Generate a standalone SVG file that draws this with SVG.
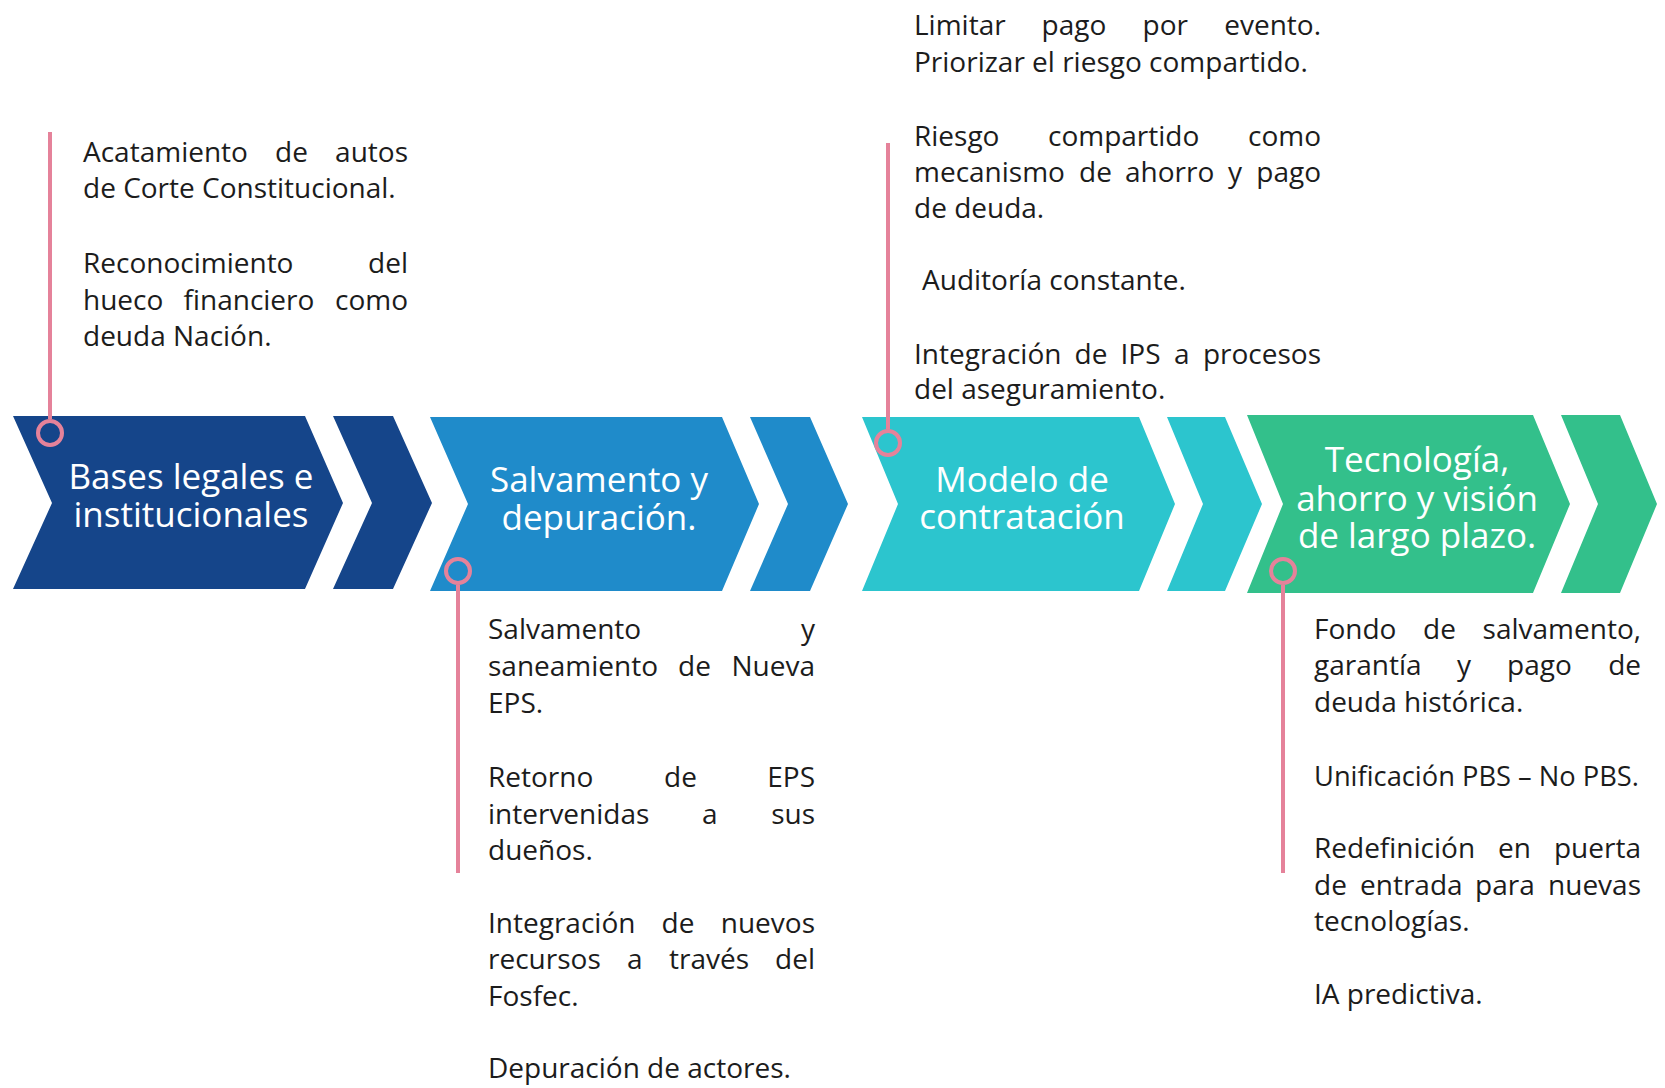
<svg xmlns="http://www.w3.org/2000/svg" width="1665" height="1088" viewBox="0 0 1665 1088">
<style>
.body{font-family:"Open Sans","Liberation Sans",sans-serif;font-size:28px;fill:#1c1c1c}
.r{text-anchor:end}
.title{font-family:"Open Sans","Liberation Sans",sans-serif;font-size:35px;fill:#ffffff;text-anchor:middle}
.conn{stroke:#E5829A;stroke-width:4;fill:none}
.dot{stroke:#E5829A;stroke-width:4;fill:none}
.c1{fill:#15458A}.c2{fill:#1F8BCA}.c3{fill:#2CC5CE}.c4{fill:#33C08B}
</style>
<rect width="1665" height="1088" fill="#ffffff"/>

<g id="stage1">
<path class="c1" d="M13,416 L305,416 L343,503 L305,589 L13,589 L52,503 Z"/>
<path class="c1" d="M333,416 L393,416 L432,503 L393,589 L333,589 L372,503 Z"/>
<text class="title" x="191" y="489">Bases legales e</text>
<text class="title" x="191" y="527">institucionales</text>
</g>
<g id="stage2">
<path class="c2" d="M430,417 L722,417 L759,504 L722,591 L430,591 L468,504 Z"/>
<path class="c2" d="M750,417 L810,417 L848,504 L810,591 L750,591 L788,504 Z"/>
<text class="title" x="599" y="492">Salvamento y</text>
<text class="title" x="599" y="530">depuración.</text>
</g>
<g id="stage3">
<path class="c3" d="M862,417 L1139,417 L1175,504 L1139,591 L862,591 L898,504 Z"/>
<path class="c3" d="M1167,417 L1225,417 L1262,504 L1225,591 L1167,591 L1203,504 Z"/>
<text class="title" x="1022" y="492">Modelo de</text>
<text class="title" x="1022" y="529">contratación</text>
</g>
<g id="stage4">
<path class="c4" d="M1247,415 L1533,415 L1570,504 L1533,593 L1247,593 L1283,504 Z"/>
<path class="c4" d="M1561,415 L1620,415 L1657,504 L1620,593 L1561,593 L1598,504 Z"/>
<text class="title" x="1417" y="472">Tecnología,</text>
<text class="title" x="1417" y="511">ahorro y visión</text>
<text class="title" x="1417" y="548">de largo plazo.</text>
</g>

<g id="connectors">
<line class="conn" x1="50" y1="132" x2="50" y2="419"/>
<circle class="dot" cx="50" cy="433" r="12"/>
<line class="conn" x1="458" y1="585" x2="458" y2="873"/>
<circle class="dot" cx="458" cy="571" r="12"/>
<line class="conn" x1="888" y1="143" x2="888" y2="429"/>
<circle class="dot" cx="888" cy="443" r="12"/>
<line class="conn" x1="1283" y1="585" x2="1283" y2="873"/>
<circle class="dot" cx="1283" cy="571" r="12"/>
</g>

<g id="notes1">
<text class="body" x="83" y="162">Acatamiento</text>
<text class="body" x="275" y="162">de</text>
<text class="body r" x="408" y="162">autos</text>
<text class="body" x="83" y="198">de Corte Constitucional.</text>
<text class="body" x="83" y="273">Reconocimiento</text>
<text class="body r" x="408" y="273">del</text>
<text class="body" x="83" y="310">hueco</text>
<text class="body" x="183.5" y="310">financiero</text>
<text class="body r" x="408" y="310">como</text>
<text class="body" x="83" y="346">deuda Nación.</text>
</g>

<g id="notes2">
<text class="body" x="488" y="639">Salvamento</text>
<text class="body r" x="815" y="639">y</text>
<text class="body" x="488" y="676">saneamiento</text>
<text class="body" x="678" y="676">de</text>
<text class="body r" x="815" y="676">Nueva</text>
<text class="body" x="488" y="713">EPS.</text>
<text class="body" x="488" y="787">Retorno</text>
<text class="body" x="664" y="787">de</text>
<text class="body r" x="815" y="787">EPS</text>
<text class="body" x="488" y="824">intervenidas</text>
<text class="body" x="702" y="824">a</text>
<text class="body r" x="815" y="824">sus</text>
<text class="body" x="488" y="860">dueños.</text>
<text class="body" x="488" y="933">Integración</text>
<text class="body" x="661.5" y="933">de</text>
<text class="body r" x="815" y="933">nuevos</text>
<text class="body" x="488" y="969">recursos</text>
<text class="body" x="627" y="969">a</text>
<text class="body" x="669" y="969">través</text>
<text class="body r" x="815" y="969">del</text>
<text class="body" x="488" y="1006">Fosfec.</text>
<text class="body" x="488" y="1078">Depuración de actores.</text>
</g>

<g id="notes3">
<text class="body" x="914" y="35">Limitar</text>
<text class="body" x="1041.5" y="35">pago</text>
<text class="body" x="1142.5" y="35">por</text>
<text class="body r" x="1321" y="35">evento.</text>
<text class="body" x="914" y="72">Priorizar el riesgo compartido.</text>
<text class="body" x="914" y="146">Riesgo</text>
<text class="body" x="1048" y="146">compartido</text>
<text class="body r" x="1321" y="146">como</text>
<text class="body" x="914" y="182">mecanismo</text>
<text class="body" x="1079" y="182">de</text>
<text class="body" x="1125" y="182">ahorro</text>
<text class="body" x="1228" y="182">y</text>
<text class="body r" x="1321" y="182">pago</text>
<text class="body" x="914" y="218">de deuda.</text>
<text class="body" x="922" y="290">Auditoría constante.</text>
<text class="body" x="914" y="364">Integración</text>
<text class="body" x="1074.5" y="364">de</text>
<text class="body" x="1120.5" y="364">IPS</text>
<text class="body" x="1174" y="364">a</text>
<text class="body r" x="1321" y="364">procesos</text>
<text class="body" x="914" y="399">del aseguramiento.</text>
</g>

<g id="notes4">
<text class="body" x="1314" y="639">Fondo</text>
<text class="body" x="1423" y="639">de</text>
<text class="body r" x="1641" y="639">salvamento,</text>
<text class="body" x="1314" y="675">garantía</text>
<text class="body" x="1457" y="675">y</text>
<text class="body" x="1507" y="675">pago</text>
<text class="body r" x="1641" y="675">de</text>
<text class="body" x="1314" y="712">deuda histórica.</text>
<text class="body" x="1314" y="786" textLength="325" lengthAdjust="spacingAndGlyphs">Unificación PBS – No PBS.</text>
<text class="body" x="1314" y="858">Redefinición</text>
<text class="body" x="1498" y="858">en</text>
<text class="body r" x="1641" y="858">puerta</text>
<text class="body" x="1314" y="895">de</text>
<text class="body" x="1360" y="895">entrada</text>
<text class="body" x="1475" y="895">para</text>
<text class="body r" x="1641" y="895">nuevas</text>
<text class="body" x="1314" y="931">tecnologías.</text>
<text class="body" x="1314" y="1004">IA predictiva.</text>
</g>
</svg>
